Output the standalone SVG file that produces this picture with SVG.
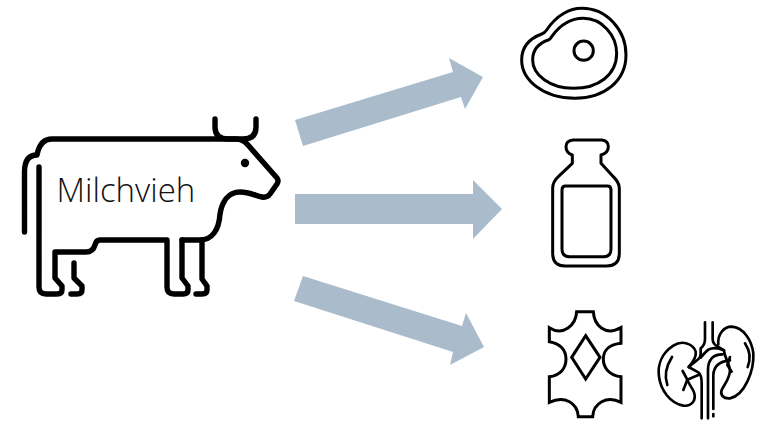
<svg xmlns="http://www.w3.org/2000/svg" width="767" height="421" viewBox="0 0 767 421">
<style>
.arrow{fill:#aabccb}
.line{fill:none;stroke:#000;stroke-linecap:round;stroke-linejoin:round}
.cow{stroke-width:5.4}
.s3{stroke-width:9}
.k{stroke-width:8}
.m{stroke-linecap:butt;stroke-linejoin:miter}
.label{font-family:"Open Sans","Liberation Sans",sans-serif;font-weight:300;font-size:33px;fill:#111}
</style>
<rect width="767" height="421" fill="#fff"/>
<g id="connectors">
<polygon class="arrow" points="295,120 453,72 449,58 483,77 465,109 461,97 303,146"/>
<polygon class="arrow" points="295,194 473,194 473,180 502,209 473,239 473,224 295,224"/>
<polygon class="arrow" points="303,276 462,326 466,313 484,347 450,365 453,352 294,301"/>
</g>
<g id="cow">
<path class="line cow" d="M24.5,232 V172 Q24.5,155 37,155 Q40,139 52,139 H236 Q243,139 248,145 L277,178 Q279,181 277,184 L270,194 Q267,198 262,197 C256,196 250,192 240,192 C228,192 222,202 220,214 C219,230 212,240 200,240 H182"/>
<path class="line cow" d="M202,240 V279 L207,286 V290 Q207,294 202,294 H196"/>
<path class="line cow" d="M182,240 V278 L188,286 V290 Q188,294 183,294 H174 Q167,294 167,287 V240 H100 Q96,240 95,245 Q93,252 86,252 H55 V278 L62,286 V290 Q62,294 57,294 H46 Q39,294 39,287 V167"/>
<path class="line cow" d="M74,263 V278 L82,286 V290 Q82,294 77,294 H71"/>
<path class="line cow" d="M215,119 V127 Q215,139 228,139 H243 Q256,139 256,127 V119"/>
<circle cx="245" cy="163" r="4.2"/>
<text class="label" x="56.5" y="202">Milchvieh</text>
</g>
<g id="meat" transform="translate(500 0) scale(.3333)">
<path class="line s3" d="M140,90 C170,45 210,25 245,25 C320,25 378,90 378,165 C378,245 310,295 225,295 C130,295 65,240 65,180 C65,140 90,115 125,102 C132,100 136,96 140,90Z"/>
<path class="line s3" d="M155,110 C180,75 215,55 250,55 C305,55 350,105 350,160 C350,225 295,265 220,265 C150,265 98,225 98,180 C98,150 115,130 145,120 C150,118 152,115 155,110Z"/>
<circle class="line s3" cx="251" cy="152" r="29"/>
</g>
<g id="bottle" transform="translate(530 130) scale(.3333)">
<path class="line s3" d="M130,30 H215 Q235,32 235,50 Q235,68 213,75 V100 L250,140 Q268,158 268,175 V370 Q268,408 230,408 H105 Q68,408 68,370 V175 Q68,155 85,140 L127,100 V75 Q108,68 108,50 Q108,32 130,30Z"/>
<path class="line s3" d="M107,168 H232 Q243,168 243,179 V358 Q243,380 222,380 H118 Q96,380 96,358 V179 Q96,168 107,168Z"/>
</g>
<g id="leather" transform="translate(540 305) scale(.3333)">
<path class="line s3 m" d="M110,20 H160 C162,60 195,95 243,68 V115 C210,118 190,135 190,162 C190,190 210,212 243,215 V292 C200,270 160,295 158,335 H115 C113,295 75,270 28,292 V215 C60,212 78,190 78,162 C78,135 60,115 28,110 V68 C70,95 108,60 110,20Z"/>
<path class="line s3 m" d="M137,92 L180,157 L137,222 L95,157Z"/>
</g>
<g id="kidneys" transform="translate(650 315) scale(.3333)">
<path class="line k" d="M116,156 C130,140 140,125 137,110 C130,85 95,75 70,92 C35,115 22,150 27,185 C32,225 60,265 100,272 C125,275 140,255 132,232 C125,215 115,205 111,193"/>
<path class="line k" d="M205,88 C202,60 220,35 245,35 C280,37 305,75 310,115 C313,165 285,240 240,250 C220,252 210,240 215,225 C225,205 240,190 240,165 C238,145 225,130 222,108"/>
<path class="line k" d="M165,22 V72 Q165,90 152,100 V118 Q152,128 142,135 L116,156 L145,172 Q155,180 155,205 V310"/>
<path class="line k" d="M188,22 V72 Q188,88 205,96 L222,106"/>
<path class="line k" d="M152,128 Q165,112 175,104 Q195,94 222,106"/>
<path class="line k" d="M218,118 Q195,118 185,130 Q174,142 174,165 V310"/>
<path class="line k" d="M240,136 Q192,140 190,180 V282"/>
<path class="line k" d="M190,297 V304"/>
<path class="line k" d="M66,126 Q38,170 52,210"/>
<path class="line k" d="M285,85 Q308,120 293,156"/>
<path class="line k" d="M98,168 L112,194 L100,225"/>
<path class="line k" d="M112,194 L145,180"/>
<path class="line k" d="M240,126 L232,150 L245,170"/>
</g>
</svg>
